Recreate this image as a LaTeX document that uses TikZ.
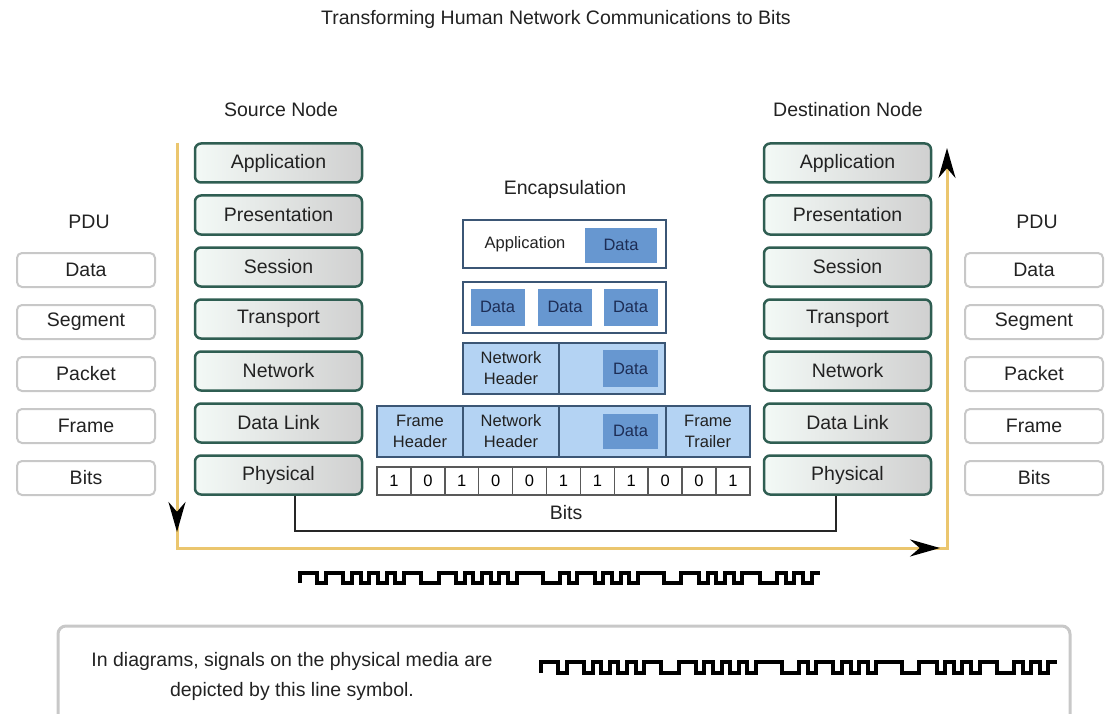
\documentclass[tikz,border=0pt]{standalone}
\usepackage{fontspec}
\setmainfont{Liberation Sans}
\usetikzlibrary{arrows.meta}
\definecolor{osiedge}{HTML}{2F5E52}
\definecolor{osileft}{HTML}{F3F9F6}
\definecolor{osiright}{HTML}{D0D0D0}
\definecolor{pduedge}{HTML}{C8C8C8}
\definecolor{flowgold}{HTML}{EBC66E}
\definecolor{encedge}{HTML}{3B5675}
\definecolor{enclight}{HTML}{B4D3F3}
\definecolor{encdata}{HTML}{6797D0}
\definecolor{datatext}{HTML}{1D2D55}
\definecolor{txtgray}{HTML}{222222}
\newcommand{\headfont}{\fontsize{19.5}{23}\selectfont}
\newcommand{\osifont}{\fontsize{19.5}{23}\selectfont}
\newcommand{\encfont}{\fontsize{16.5}{21}\selectfont}
% levels of the square wave, one per unit
\newcommand{\sigbits}{1,1,0,1,1,0,1,0,1,0,1,0,1,1,0,0,1,1,0,1,0,1,0,1,0,1,1,1,0,0,1,0,1,1,0,1,0,1,0,1,1,1,0,0,1,1,0,1,0,1,0,1,1,0,0,1,0,1,0,1}
\tikzset{
  pics/signal/.style={code={
    \draw[line width=4pt,line join=miter] (0,0) \foreach \lv [count=\i] in \sigbits {-- ({\i-1},\lv) -- (\i,\lv)};
  }}
}
\begin{document}
\begin{tikzpicture}[x=1pt,y=-1pt,
  layer/.style={draw=osiedge,line width=2.5pt,rounded corners=6pt,left color=osileft,right color=osiright,
    minimum width=167pt,minimum height=39pt,inner sep=0pt,font=\osifont,text=txtgray},
  pdu/.style={draw=pduedge,line width=2pt,rounded corners=5pt,fill=white,
    minimum width=138pt,minimum height=34pt,inner sep=0pt,font=\osifont,text=txtgray},
  encbox/.style={draw=encedge,line width=2pt,fill=white,inner sep=0pt,font=\encfont,align=center,text=txtgray},
  enclt/.style={encbox,fill=enclight},
  datab/.style={fill=encdata,inner sep=0pt,font=\encfont,text=datatext},
  bitcell/.style={draw=black!65,line width=1.5pt,fill=white,minimum width=33.9pt,minimum height=28pt,inner sep=0pt,font=\encfont},
  flow/.style={flowgold,line width=3pt},
  flowtip/.style={-{Stealth[black,length=30pt,width=17pt]}}]
\useasboundingbox (0,0) rectangle (1105,714);
% Title and headings
\node[font=\headfont,text=txtgray] (title) at (556,19) {Transforming Human Network Communications to Bits};
\node[font=\headfont,text=txtgray] (srchead) at (281,110) {Source Node};
\node[font=\headfont,text=txtgray] (dsthead) at (848,110) {Destination Node};
\node[font=\headfont,text=txtgray] (lpduhead) at (89,222) {PDU};
\node[font=\headfont,text=txtgray] (rpduhead) at (1037,222) {PDU};
\node[font=\headfont,text=txtgray] (enchead) at (565,189) {Encapsulation};
% OSI layers on both nodes
\foreach \name [count=\k] in {Application,Presentation,Session,Transport,Network,Data Link,Physical} {
  \node[layer] (src\k) at (278.5,{163+52*(\k-1)}) {\name};
  \node[layer] (dst\k) at (847.5,{163+52*(\k-1)}) {\name};
}
% PDU names
\foreach \name [count=\k] in {Data,Segment,Packet,Frame,Bits} {
  \node[pdu] (lpdu\k) at (86,{270+52*(\k-1)}) {\name};
  \node[pdu] (rpdu\k) at (1034,{270+52*(\k-1)}) {\name};
}
% Flow down the source and up the destination
\coordinate (ltop) at (177,143);
\coordinate (ldown) at (177,532);
\coordinate (lcorner) at (177,548);
\coordinate (rtip) at (940,548);
\coordinate (rcorner) at (947,548);
\coordinate (rtop) at (947,148);
\draw[flow,flowtip] (ltop) -- (lcorner) -- (rcorner) -- (rtop);
\draw[flow,flowtip] (ltop) -- (ldown);
\draw[flow,flowtip] (lcorner) -- (rtip);
% Encapsulation: application data
\node[encbox,minimum width=203pt,minimum height=48pt] (approw) at (564.5,244) {};
\node[font=\encfont,text=txtgray] (applbl) at (525,244) {Application};
\node[datab,minimum width=72pt,minimum height=35pt] (appdata) at (621,245) {Data};
% segments
\node[encbox,minimum width=203pt,minimum height=51pt] (segrow) at (564.5,307) {};
\foreach \x [count=\k] in {497.5,565,630.5}
  \node[datab,minimum width=54pt,minimum height=37pt] (seg\k) at (\x,307) {Data};
% packet
\node[enclt,minimum width=96pt,minimum height=51pt] (nhdr) at (511,368.5) {Network\\Header};
\node[enclt,minimum width=106pt,minimum height=51pt] (npay) at (612,368.5) {};
\node[datab,minimum width=55pt,minimum height=37pt] (ndata) at (630.5,368.5) {Data};
% frame
\node[enclt,minimum width=86pt,minimum height=51pt] (fhdr) at (420,431.5) {Frame\\Header};
\node[enclt,minimum width=96pt,minimum height=51pt] (fnet) at (511,431.5) {Network\\Header};
\node[enclt,minimum width=107pt,minimum height=51pt] (fpay) at (612.5,431.5) {};
\node[enclt,minimum width=84pt,minimum height=51pt] (ftrl) at (708,431.5) {Frame\\Trailer};
\node[datab,minimum width=55pt,minimum height=35pt] (fdata) at (630.5,431) {Data};
% bits
\foreach \b [count=\k] in {1,0,1,0,0,1,1,1,0,0,1}
  \node[bitcell] (bit\k) at ({377+33.9*(\k-0.5)},481) {\b};
\draw[line width=2pt,black!85] ([xshift=16pt]src7.south) -- ++(0,35) -| ([xshift=-12pt]dst7.south);
\node[font=\osifont,text=txtgray] (bitslbl) at (566,513) {Bits};
% Signal on the medium
\coordinate (sig1) at (300,583);
\pic[x=8.67pt,y=10pt] at (sig1) {signal};
% Legend
\node[draw=pduedge,line width=3pt,rounded corners=8pt,minimum width=1012pt,minimum height=110pt] (legend) at (564,681) {};
\node[font=\fontsize{19.5}{30}\selectfont,align=center,text=txtgray] (legtxt) at (292,676) {In diagrams, signals on the physical media are\\depicted by this line symbol.};
\coordinate (sig2) at (541,673);
\pic[x=8.6pt,y=11pt] at (sig2) {signal};
\end{tikzpicture}
\end{document}
